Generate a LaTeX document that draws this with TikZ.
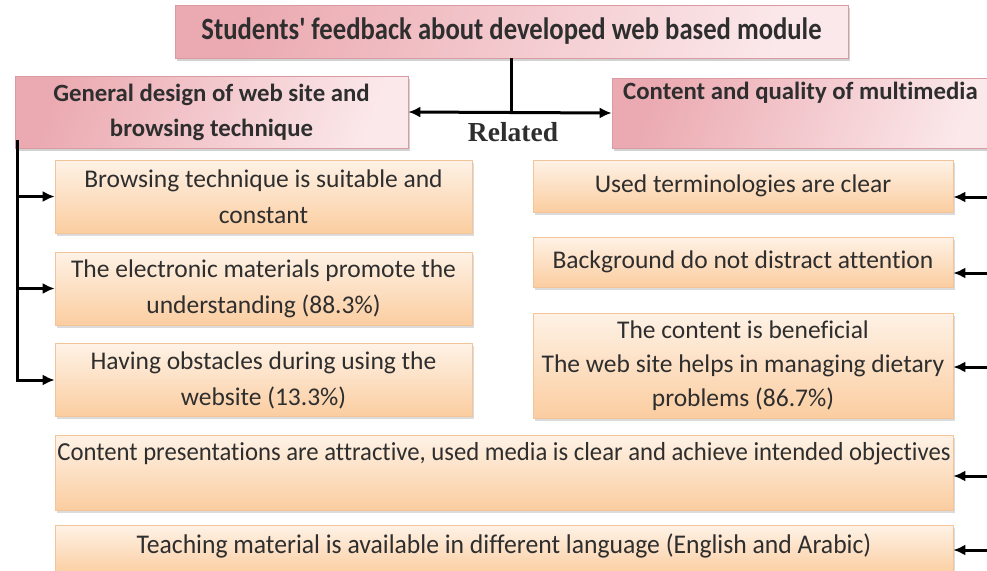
\documentclass[tikz,border=0pt]{standalone}
\usepackage{fontspec}
\setmainfont{Carlito}[Ligatures=NoCommon]
\newfontfamily\serifrm{Liberation Serif}
\newfontfamily\narrowrm[FakeStretch=0.95,Ligatures=NoCommon]{Carlito}
\newfontfamily\titlerm[FakeStretch=0.86,Ligatures=NoCommon]{Carlito}
\usetikzlibrary{arrows.meta,shadows}

\definecolor{pinkA}{HTML}{EBAAB1}
\definecolor{pinkB}{HTML}{FBE8EA}
\definecolor{pinkEdge}{HTML}{D99AA1}
\definecolor{peachA}{HTML}{FEF2E6}
\definecolor{peachB}{HTML}{FBCDA0}
\definecolor{peachEdge}{HTML}{F3C49A}
\definecolor{ink}{HTML}{2E2E2E}

\tikzset{
  hdrbox/.style={draw=pinkEdge, line width=0.6pt, left color=pinkA, right color=pinkB,
    shading angle=70,
    drop shadow={shadow xshift=2pt, shadow yshift=-3pt, fill=black!35},
    inner sep=0pt, text=ink, align=center,
    font=\fontsize{24.8}{35}\selectfont\bfseries},
  itembox/.style={draw=peachEdge, line width=0.6pt, top color=peachA, bottom color=peachB,
    drop shadow={shadow xshift=1.5pt, shadow yshift=-2.5pt, fill=black!28},
    inner sep=0pt, text=ink, align=center,
    font=\fontsize{25.5}{36}\selectfont},
  itemtext/.style={inner sep=0pt, text=ink, align=center},
  link/.style={line width=3pt, draw=black},
  arr/.style={link, -{Latex[length=12pt,width=11pt]}},
  arrboth/.style={link, {Latex[length=12pt,width=11pt]}-{Latex[length=12pt,width=11pt]}},
}

\begin{document}
\begin{tikzpicture}[x=1pt, y=-1pt]
  \useasboundingbox (0,0) rectangle (987,570);
  \clip (0,0) rectangle (987,570);

  % top heading and the two categories
  \node[hdrbox, minimum width=673pt, minimum height=53pt] (title) at (511.5,31.5)
    {\titlerm\fontsize{31}{33}\selectfont\bfseries Students' feedback about developed web based module};
  \node[hdrbox, minimum width=393pt, minimum height=72pt] (lhdr) at (211.5,112)
    {General design of web site and\\browsing technique};
  \node[hdrbox, minimum width=388pt, minimum height=70pt] (rhdr) at (806,113) {};
  \node[itemtext, anchor=west, font=\fontsize{24.8}{35}\selectfont\bfseries] (rhdrtext) at (623,93)
    {Content and quality of multimedia};

  % link between the two categories
  \draw[link] (title.south) -- (title.south |- lhdr.east);
  \draw[arrboth] (lhdr.east) -- (rhdr.west);
  \node[font=\serifrm\fontsize{27.5}{30}\selectfont\bfseries, text=ink, inner sep=0pt] (rel) at (513,132) {Related};

  % left column items
  \node[itembox, minimum width=417pt, minimum height=73pt] (lb1) at (263.5,196.5)
    {Browsing technique is suitable and\\constant};
  \node[itembox, minimum width=417pt, minimum height=73pt] (lb2) at (263.5,288.5)
    {The electronic materials promote the\\understanding (88.3\%)};
  \node[itembox, minimum width=417pt, minimum height=73pt] (lb3) at (263.5,380)
    {Having obstacles during using the\\website (13.3\%)};

  % right column items
  \node[itembox, minimum width=420pt, minimum height=52pt] (rb1) at (743,186)
    {Used terminologies are clear};
  \node[itembox, minimum width=420pt, minimum height=50pt] (rb2) at (743,262)
    {Background do not distract attention};
  \node[itembox, minimum width=420pt, minimum height=105pt, font=\fontsize{25.5}{34}\selectfont] (rb3) at (743,365.5)
    {The content is beneficial\\The web site helps in managing dietary\\problems (86.7\%)};

  % wide items at the bottom
  \node[itembox, minimum width=898pt, minimum height=75pt] (bb1) at (504,472.5) {};
  \node[itemtext, font=\narrowrm\fontsize{26}{30}\selectfont] (bb1text) at (504,454)
    {Content presentations are attractive, used media is clear and achieve intended objectives};
  \node[itembox, minimum width=898pt, minimum height=50pt] (bb2) at (504,550) {};
  \node[itemtext, font=\narrowrm\fontsize{27}{30}\selectfont] (bb2text) at (504,546)
    {Teaching material is available in different language (English and Arabic)};

  % left bus with arrows into the items
  \coordinate (lbus) at (17,140);
  \draw[arr] (lbus) |- (lb3.west);
  \draw[arr] (lbus |- lb1.west) -- (lb1.west);
  \draw[arr] (lbus |- lb2.west) -- (lb2.west);

  % arrows entering from the right edge
  \coordinate (ra1) at (995,197);
  \coordinate (ra2) at (995,273);
  \coordinate (ra3) at (995,367);
  \coordinate (ra4) at (995,476);
  \coordinate (ra5) at (995,550);
  \draw[arr] (ra1) -- (ra1 -| rb1.east);
  \draw[arr] (ra2) -- (ra2 -| rb2.east);
  \draw[arr] (ra3) -- (ra3 -| rb3.east);
  \draw[arr] (ra4) -- (ra4 -| bb1.east);
  \draw[arr] (ra5) -- (ra5 -| bb2.east);
\end{tikzpicture}
\end{document}
